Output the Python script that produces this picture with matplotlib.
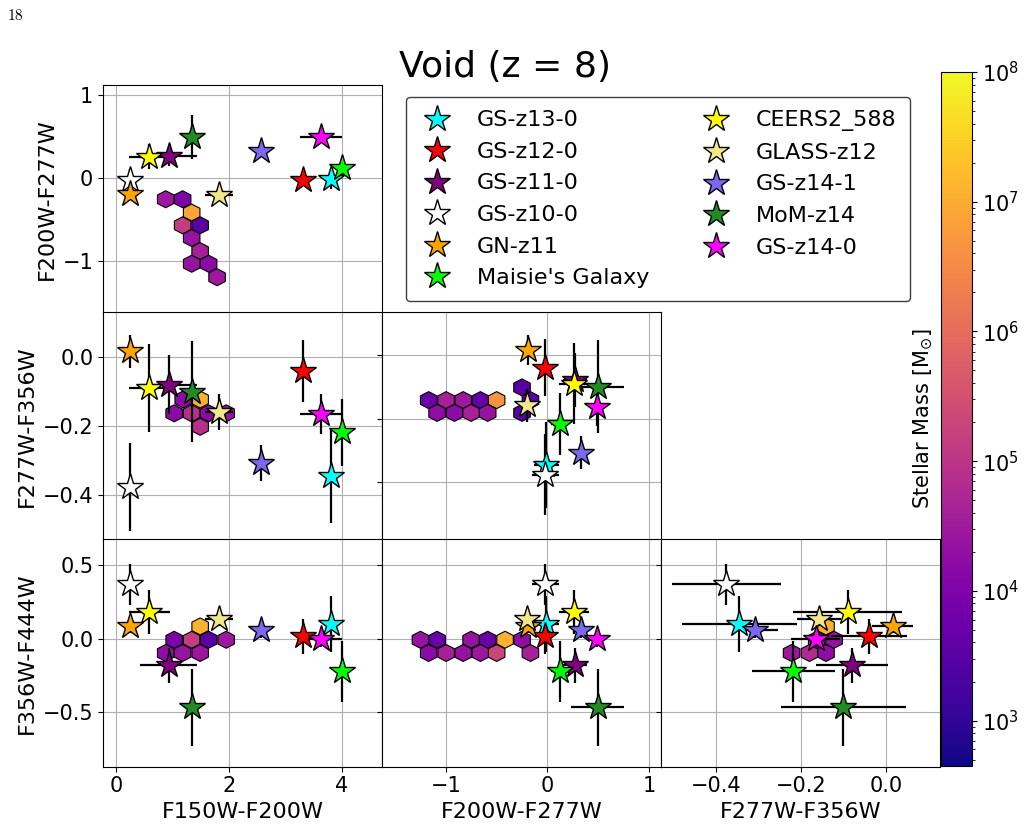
import numpy as np
import matplotlib
matplotlib.use("Agg")
import matplotlib.pyplot as plt
from matplotlib.colors import LogNorm
from matplotlib.lines import Line2D
from matplotlib.path import Path
import matplotlib.cm as cm

# galaxies (legend order = draw order)
names = ['GS-z13-0', 'GS-z12-0', 'GS-z11-0', 'GS-z10-0', 'GN-z11', "Maisie's Galaxy",
         'CEERS2_588', 'GLASS-z12', 'GS-z14-1', 'MoM-z14', 'GS-z14-0']
star_colors = ['cyan', 'red', 'purple', 'white', 'orange', 'lime',
               'yellow', 'khaki', 'mediumslateblue', 'forestgreen', 'magenta']

f150_f200 = [3.81, 3.32, 0.93, 0.24, 0.24, 4.01, 0.59, 1.83, 2.57, 1.35, 3.63]
f200_f277 = [-0.01, -0.02, 0.27, -0.02, -0.19, 0.12, 0.26, -0.20, 0.33, 0.495, 0.49]
f277_f356 = [-0.345, -0.04, -0.08, -0.376, 0.016, -0.218, -0.09, -0.158, -0.307, -0.10, -0.165]
f356_f444 = [0.10, 0.016, -0.18, 0.37, 0.09, -0.222, 0.18, 0.134, 0.058, -0.468, -0.005]

err_150_200 = [0.05, 0.05, 0.50, 0.05, 0.05, 0.05, 0.36, 0.25, 0.05, 0.05, 0.38]
err_200_277 = [0.12, 0.05, 0.12, 0.13, 0.05, 0.08, 0.15, 0.05, 0.05, 0.26, 0.05]
err_277_356 = [0.135, 0.09, 0.085, 0.128, 0.048, 0.097, 0.128, 0.052, 0.052, 0.146, 0.058]
err_356_444 = [0.19, 0.12, 0.12, 0.14, 0.05, 0.21, 0.15, 0.05, 0.05, 0.26, 0.05]

# void galaxy hexbin cells (centres, log10 stellar mass)
hex_a_x = [0.88, 1.18, 1.34, 1.18, 1.49, 1.34, 1.49, 1.34, 1.64, 1.79]
hex_a_y = [-0.253, -0.253, -0.413, -0.566, -0.566, -0.719, -0.876, -1.028, -1.028, -1.19]
hex_a_m = [4.45, 4.0, 6.9, 5.15, 3.5, 4.35, 4.6, 4.35, 4.2, 4.45]

hex_b_x = [1.19, 1.49, 1.03, 1.34, 1.64, 1.95, 1.49]
hex_b_y = [-0.123, -0.123, -0.163, -0.163, -0.163, -0.163, -0.202]
hex_b_m = [4.2, 7.1, 4.2, 4.9, 4.2, 4.4, 4.9]

hex_c_x = [-1.17, -0.998, -0.83, -0.66, -0.50, -1.087, -0.916, -0.752, -0.588, -0.25, -0.167, -0.25]
hex_c_y = [-0.142, -0.142, -0.142, -0.142, -0.142, -0.182, -0.182, -0.182, -0.182, -0.102, -0.142, -0.182]
hex_c_m = [3.7, 4.6, 4.45, 3.65, 6.65, 4.25, 4.2, 4.6, 4.35, 3.5, 3.5, 3.5]

hex_d_x = [1.49, 1.03, 1.34, 1.64, 1.95, 0.88, 1.18, 1.49]
hex_d_y = [0.084, -0.007, -0.007, -0.007, -0.007, -0.097, -0.097, -0.097]
hex_d_m = [7.1, 3.95, 5.15, 3.5, 4.45, 4.25, 4.35, 4.45]

hex_e_x = [-1.251, -1.087, -0.752, -0.588, -0.417, -0.249, -1.17, -0.998, -0.83, -0.66, -0.50, -0.167]
hex_e_y = [-0.007, -0.007, -0.007, -0.007, -0.007, -0.007, -0.097, -0.097, -0.097, -0.097, -0.097, -0.097]
hex_e_m = [4.35, 3.7, 4.35, 3.75, 7.1, 4.25, 4.2, 4.6, 4.35, 4.45, 5.3, 4.6]

hex_f_x = [-0.222, -0.180, -0.141, -0.141, -0.122, -0.163]
hex_f_y = [-0.097, -0.097, -0.097, 0.084, -0.007, -0.007]
hex_f_m = [4.45, 4.8, 4.25, 7.1, 4.35, 4.3]

W, H = 1024, 826
fig = plt.figure(figsize=(W / 100, H / 100), dpi=100)

norm = LogNorm(vmin=10 ** 2.65, vmax=1e8)
cmap = 'plasma'

hv = [(0, 1), (0.97, 0.5), (0.97, -0.5), (0, -1), (-0.97, -0.5), (-0.97, 0.5)]
hex_marker = Path(hv + [hv[0]], closed=True)

col_left = [103, 382, 661]
row_top = [85, 312, 539]
panel_w, panel_h = 279, 227.5


def make_ax(col, row):
    return fig.add_axes([col_left[col] / W, 1 - (row_top[row] + panel_h) / H,
                         panel_w / W, panel_h / H])


colours = [f150_f200, f200_f277, f277_f356, f356_f444]
errors = [err_150_200, err_200_277, err_277_356, err_356_444]
labels = ['F150W-F200W', 'F200W-F277W', 'F277W-F356W', 'F356W-F444W']

panels = [
    # col, row, x index, y index, hexes, xlim, ylim
    (0, 0, 0, 1, (hex_a_x, hex_a_y, hex_a_m), (-0.23, 4.71), (-1.614, 1.12)),
    (0, 1, 0, 2, (hex_b_x, hex_b_y, hex_b_m), (-0.23, 4.71), (-0.528, 0.130)),
    (1, 1, 1, 2, (hex_c_x, hex_c_y, hex_c_m), (-1.63, 1.12), (-0.580, 0.135)),
    (0, 2, 0, 3, (hex_d_x, hex_d_y, hex_d_m), (-0.23, 4.71), (-0.871, 0.680)),
    (1, 2, 1, 3, (hex_e_x, hex_e_y, hex_e_m), (-1.63, 1.12), (-0.871, 0.680)),
    (2, 2, 2, 3, (hex_f_x, hex_f_y, hex_f_m), (-0.529, 0.127), (-0.871, 0.680)),
]

xticks = {0: [0, 2, 4], 1: [-1, 0, 1], 2: [-0.4, -0.2, 0.0]}
yticks = {1: [-1, 0, 1], 2: [-0.4, -0.2, 0.0], 3: [-0.5, 0.0, 0.5]}

for col, row, ix, iy, hexes, xlim, ylim in panels:
    ax = make_ax(col, row)
    hx, hy, hm = hexes
    ax.scatter(hx, hy, c=10 ** np.array(hm), cmap=cmap, norm=norm, marker=hex_marker,
               s=150, edgecolors='k', linewidths=0.8, zorder=2)
    for i in range(len(names)):
        ax.errorbar(colours[ix][i], colours[iy][i], xerr=errors[ix][i], yerr=errors[iy][i],
                    fmt='*', ms=20, mfc=star_colors[i], mec='k', mew=1.0,
                    ecolor='k', elinewidth=1.6, capsize=0, zorder=3)
    ax.set_xlim(xlim)
    ax.set_ylim(ylim)
    ax.set_xticks(xticks[ix])
    ax.set_yticks(yticks[iy])
    ax.grid(True, zorder=0)
    ax.set_axisbelow(True)
    ax.tick_params(labelsize=15)
    if row == 2:
        ax.set_xlabel(labels[ix], fontsize=16)
    else:
        ax.tick_params(labelbottom=False)
    if col == 0:
        ax.set_ylabel(labels[iy], fontsize=16)
    else:
        ax.tick_params(labelleft=False)

# legend
handles = [Line2D([], [], ls='none', marker='*', ms=20, mfc=c, mec='k', mew=1.0, label=n)
           for n, c in zip(names, star_colors)]
leg = fig.legend(handles=handles, loc='upper left', bbox_to_anchor=(406 / W, 1 - 97 / H),
                 bbox_transform=fig.transFigure, borderaxespad=0, ncol=2, fontsize=16,
                 borderpad=0.6, handlelength=1.6, handletextpad=1.0, columnspacing=2.2,
                 labelspacing=0.52, framealpha=1, edgecolor='0.25')

# colourbar
cax = fig.add_axes([941 / W, 1 - 766 / H, 31 / W, 694 / H])
sm = cm.ScalarMappable(norm=norm, cmap=cmap)
cb = fig.colorbar(sm, cax=cax)
cb.ax.tick_params(labelsize=15)
cb.ax.yaxis.set_label_position('left')
cb.set_label(r'Stellar Mass [M$_{\odot}$]', fontsize=15)

fig.text(505 / W, 1 - 77 / H, 'Void (z = 8)', ha='center', va='baseline', fontsize=26)
fig.text(7 / W, 1 - 20 / H, '$18$', ha='left', va='baseline', fontsize=11, math_fontfamily='cm')

fig.savefig('out.png', dpi=100)
